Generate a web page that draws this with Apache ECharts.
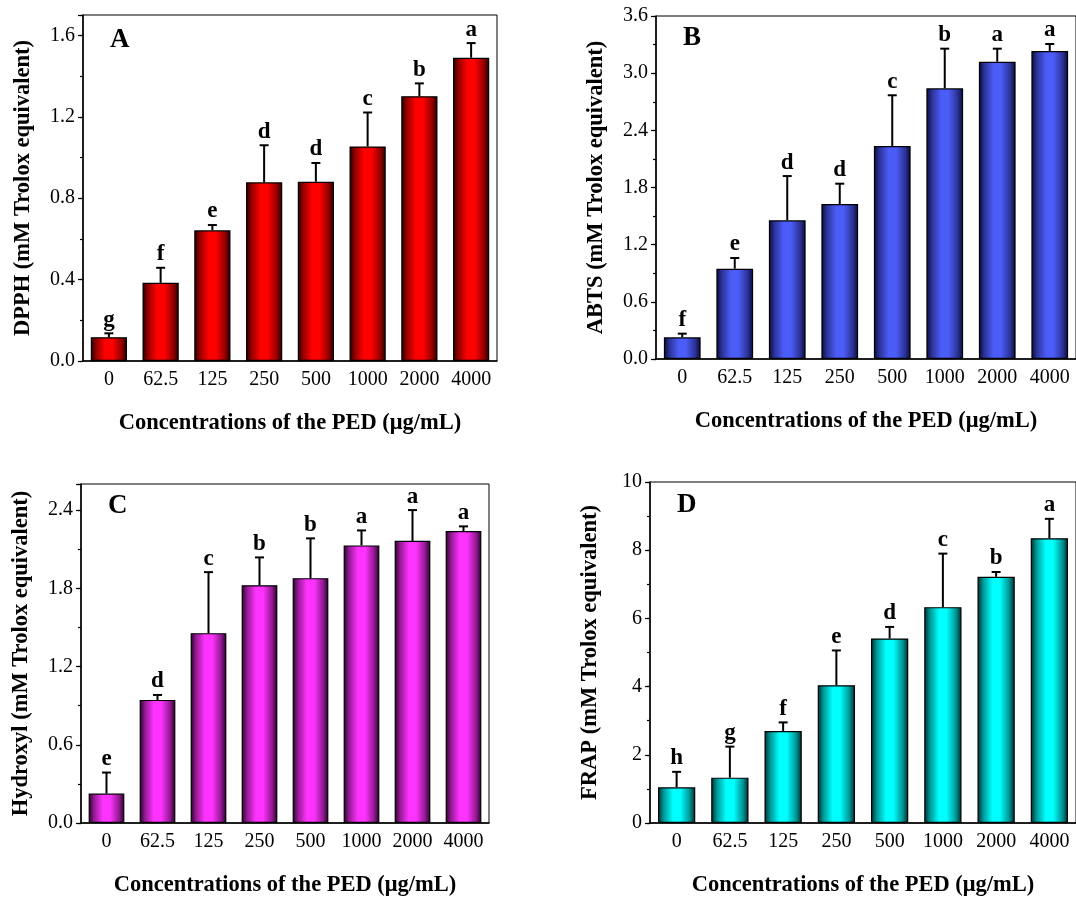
<!DOCTYPE html>
<html>
<head>
<meta charset="utf-8">
<script src="https://cdn.jsdelivr.net/npm/echarts@6/dist/echarts.min.js"></script>
<style>
  html, body { margin: 0; padding: 0; background: #fff; }
  #chart { width: 1076px; height: 898px; }
</style>
</head>
<body>
<div id="chart"></div>
<script>
// Antioxidant capacity of PED at increasing concentrations (mean + SD, significance letters)
const categories = ['0', '62.5', '125', '250', '500', '1000', '2000', '4000'];

const dpphMean = [0.117, 0.384, 0.642, 0.878, 0.881, 1.054, 1.301, 1.490];
const dpphSd = [0.019, 0.074, 0.026, 0.182, 0.092, 0.167, 0.063, 0.072];
const dpphSig = ['g', 'f', 'e', 'd', 'd', 'c', 'b', 'a'];

const abtsMean = [0.228, 0.948, 1.456, 1.627, 2.236, 2.841, 3.120, 3.233];
const abtsSd = [0.038, 0.112, 0.464, 0.213, 0.532, 0.416, 0.137, 0.073];
const abtsSig = ['f', 'e', 'd', 'd', 'c', 'b', 'a', 'a'];

const hydroxylMean = [0.226, 0.944, 1.456, 1.824, 1.878, 2.129, 2.164, 2.239];
const hydroxylSd = [0.161, 0.038, 0.468, 0.213, 0.305, 0.115, 0.236, 0.036];
const hydroxylSig = ['e', 'd', 'c', 'b', 'b', 'a', 'a', 'a'];

const frapMean = [1.046, 1.330, 2.700, 4.040, 5.410, 6.330, 7.220, 8.350];
const frapSd = [0.454, 0.910, 0.250, 1.020, 0.340, 1.570, 0.140, 0.570];
const frapSig = ['h', 'g', 'f', 'e', 'd', 'c', 'b', 'a'];

const xTitle = 'Concentrations of the PED (\u03bcg/mL)';
const FONT = 'Liberation Serif';

const panels = [
  { letter: 'A', yName: 'DPPH (mM Trolox equivalent)', mean: dpphMean, sd: dpphSd, sig: dpphSig,
    max: 1.7, step: 0.4, minor: 0.2, digits: 1, bright: '#ff0000', dark: '#260000',
    grid: { left: 83, top: 15, width: 414, height: 346 }, letterPos: { left: 110, top: 27 } },
  { letter: 'B', yName: 'ABTS (mM Trolox equivalent)', mean: abtsMean, sd: abtsSd, sig: abtsSig,
    max: 3.6, step: 0.6, minor: 0.3, digits: 1, bright: '#4b5cf7', dark: '#0a0a36',
    grid: { left: 656, top: 16, width: 422, height: 343 }, letterPos: { left: 683, top: 25 } },
  { letter: 'C', yName: 'Hydroxyl (mM Trolox equivalent)', mean: hydroxylMean, sd: hydroxylSd, sig: hydroxylSig,
    max: 2.6, step: 0.6, minor: 0.3, digits: 1, bright: '#ff33ff', dark: '#260026',
    grid: { left: 81, top: 484, width: 408, height: 340 }, letterPos: { left: 108, top: 493 } },
  { letter: 'D', yName: 'FRAP (mM Trolox equivalent)', mean: frapMean, sd: frapSd, sig: frapSig,
    max: 10, step: 2, minor: 1, digits: 0, bright: '#00ffff', dark: '#002a2a',
    grid: { left: 650, top: 482, width: 427, height: 344 }, letterPos: { left: 677, top: 492 } }
];

function mix(a, b) {
  const pa = parseInt(a.slice(1), 16), pb = parseInt(b.slice(1), 16);
  const r = Math.round((((pa >> 16) & 255) + ((pb >> 16) & 255)) / 2);
  const g = Math.round((((pa >> 8) & 255) + ((pb >> 8) & 255)) / 2);
  const bl = Math.round(((pa & 255) + (pb & 255)) / 2);
  return '#' + ((1 << 24) + (r << 16) + (g << 8) + bl).toString(16).slice(1);
}

function barFill(bright, dark) {
  const mid = mix(bright, dark);
  return new echarts.graphic.LinearGradient(0, 0, 1, 0, [
    { offset: 0, color: dark },
    { offset: 0.15, color: mid },
    { offset: 0.4, color: bright },
    { offset: 0.6, color: bright },
    { offset: 0.85, color: mid },
    { offset: 1, color: dark }
  ]);
}

const option = {
  animation: false,
  backgroundColor: '#fff',
  textStyle: { fontFamily: FONT },
  title: [],
  grid: [],
  xAxis: [],
  yAxis: [],
  series: []
};

panels.forEach((p, i) => {
  option.grid.push(Object.assign({
    show: true, borderColor: '#000', borderWidth: 1, backgroundColor: 'transparent'
  }, p.grid));

  option.title.push({
    text: p.letter, left: p.letterPos.left, top: p.letterPos.top, padding: 0,
    textStyle: { fontFamily: FONT, fontWeight: 'bold', fontSize: 27, color: '#000' }
  });

  // main category axis: ticks under each bar, labels, title
  option.xAxis.push({
    type: 'category', gridIndex: i, position: 'bottom', data: categories,
    axisLine: { lineStyle: { color: '#000', width: 1.5 } },
    axisTick: { alignWithLabel: true, interval: 0, length: 5, lineStyle: { color: '#000', width: 1.2 } },
    axisLabel: { interval: 0, color: '#000', fontFamily: FONT, fontSize: 20, margin: 9 },
    name: xTitle, nameLocation: 'middle', nameGap: 51,
    nameTextStyle: { fontFamily: FONT, fontWeight: 'bold', fontSize: 22.5, color: '#000' }
  });
  // second category axis: short ticks on the category boundaries
  option.xAxis.push({
    type: 'category', gridIndex: i, position: 'bottom', data: categories,
    axisLine: { show: false },
    axisTick: { alignWithLabel: false, interval: 0, length: 3, lineStyle: { color: '#000', width: 1.2 } },
    axisLabel: { show: false }
  });

  const step = p.step, digits = p.digits;
  option.yAxis.push({
    type: 'value', gridIndex: i, position: 'left', min: 0, max: p.max, interval: step,
    axisLine: { show: true, lineStyle: { color: '#000', width: 1.5 } },
    axisTick: { show: true, length: 5, lineStyle: { color: '#000', width: 1.2 } },
    splitLine: { show: false },
    axisLabel: {
      color: '#000', fontFamily: FONT, fontSize: 20, margin: 8,
      formatter: v => {
        const k = v / step;
        return Math.abs(k - Math.round(k)) < 1e-6 ? v.toFixed(digits) : '';
      }
    },
    name: p.yName, nameLocation: 'middle', nameRotate: 90, nameGap: 48,
    nameTextStyle: { fontFamily: FONT, fontWeight: 'bold', fontSize: 22.5, color: '#000' }
  });
  // minor ticks
  option.yAxis.push({
    type: 'value', gridIndex: i, position: 'left', min: 0, max: p.max, interval: p.minor,
    axisLine: { show: false },
    axisTick: { show: true, length: 3, lineStyle: { color: '#000', width: 1.2 } },
    axisLabel: { show: false },
    splitLine: { show: false }
  });

  const xi = i * 2, yi = i * 2;
  option.series.push({
    type: 'bar', xAxisIndex: xi, yAxisIndex: yi, data: p.mean, barWidth: '70%',
    itemStyle: { color: barFill(p.bright, p.dark), borderColor: '#000', borderWidth: 1.2 },
    z: 2
  });

  const sig = p.sig;
  option.series.push({
    type: 'custom', xAxisIndex: xi, yAxisIndex: yi, z: 5,
    data: p.mean.map((m, k) => [k, m, m + p.sd[k]]),
    renderItem: (params, api) => {
      const base = api.coord([api.value(0), api.value(1)]);
      const top = api.coord([api.value(0), api.value(2)]);
      const cap = 4.5;
      return {
        type: 'group',
        children: [
          { type: 'line', shape: { x1: base[0], y1: base[1], x2: top[0], y2: top[1] },
            style: { stroke: '#000', lineWidth: 2 } },
          { type: 'line', shape: { x1: top[0] - cap, y1: top[1], x2: top[0] + cap, y2: top[1] },
            style: { stroke: '#000', lineWidth: 2 } },
          { type: 'text', x: top[0], y: top[1] - 2,
            style: { text: sig[params.dataIndex], fontFamily: FONT, fontWeight: 'bold', fontSize: 23,
                     fill: '#000', align: 'center', verticalAlign: 'bottom' } }
        ]
      };
    }
  });
});

const chart = echarts.init(document.getElementById('chart'), null, { renderer: 'canvas' });
chart.setOption(option);
</script>
</body>
</html>
